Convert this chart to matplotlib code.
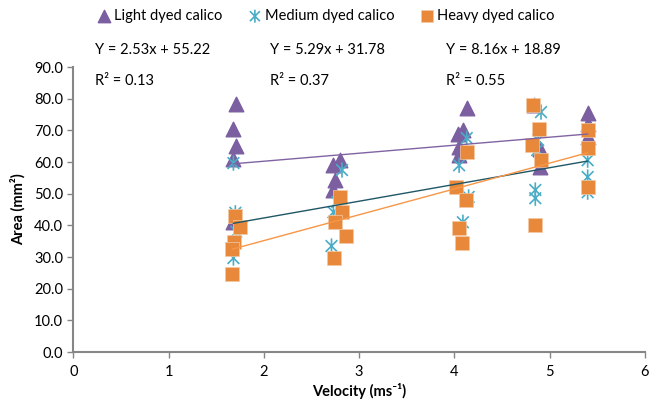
import numpy as np
import matplotlib.pyplot as plt
from matplotlib.path import Path

plt.rcParams['font.family'] = ['Lato', 'DejaVu Sans']

# Light dyed calico (triangles)
light_x = [1.71, 1.68, 1.71, 1.68, 1.68, 2.73, 2.80, 2.75, 2.73, 4.13, 4.09, 4.04, 4.05, 4.05,
           4.84, 4.90, 4.90, 5.40, 5.40, 5.40]
light_y = [78.5, 70.5, 65.0, 61.0, 41.0, 59.0, 60.6, 54.3, 51.2, 77.0, 70.0, 69.0, 64.7, 62.2,
           78.0, 64.0, 58.5, 75.5, 72.0, 68.0]

# Medium dyed calico (asterisks)
medium_x = [1.68, 1.70, 1.71, 1.68, 2.82, 2.77, 2.73, 2.71, 4.13, 4.05, 4.15, 4.09,
            4.91, 4.88, 4.87, 4.85, 4.85, 5.40, 5.40, 5.40]
medium_y = [59.7, 44.0, 38.0, 29.7, 57.5, 47.4, 44.2, 33.5, 67.6, 59.0, 49.0, 41.0,
            75.8, 67.0, 63.8, 51.2, 48.6, 60.6, 55.3, 50.5]

# Heavy dyed calico (squares)
heavy_x = [1.70, 1.75, 1.69, 1.67, 1.67, 2.80, 2.82, 2.75, 2.86, 2.74, 4.13, 4.02, 4.12, 4.05, 4.08,
           4.83, 4.89, 4.82, 4.91, 4.85, 5.40, 5.40, 5.40]
heavy_y = [43.0, 39.4, 34.7, 32.5, 24.6, 49.0, 44.2, 41.0, 36.6, 29.6, 63.2, 52.2, 48.0, 39.2, 34.4,
           78.0, 70.4, 65.4, 60.6, 40.0, 70.0, 64.4, 52.0]

labels = ['Light dyed calico', 'Medium dyed calico', 'Heavy dyed calico']
slopes = [2.53, 5.29, 8.16]
intercepts = [55.22, 31.78, 18.89]
r2 = [0.13, 0.37, 0.55]

c_light = '#7b5fa0'
c_medium = '#4aacc6'
c_heavy = '#e8883a'
line_cols = ['#8064a2', '#1f5766', '#f79646']

# asterisk marker: an X plus a vertical bar
star = Path([(-1, -1), (1, 1), (-1, 1), (1, -1), (0, -1.3), (0, 1.3)],
            [Path.MOVETO, Path.LINETO, Path.MOVETO, Path.LINETO, Path.MOVETO, Path.LINETO])

fig = plt.figure(figsize=(6.5, 4.07), dpi=100)
ax = fig.add_axes([0.113, 0.135, 0.879, 0.70])

h1 = ax.scatter(light_x, light_y, marker='^', s=110, color=c_light, zorder=2, label=labels[0])
h2 = ax.scatter(medium_x, medium_y, marker=star, s=120, facecolor='none', edgecolor=c_medium,
                linewidths=1.2, zorder=2, label=labels[1])
h3 = ax.scatter(heavy_x, heavy_y, marker='s', s=110, color=c_heavy, edgecolor='#f3c9a4',
                linewidths=0.5, zorder=3, label=labels[2])

for xs, m, b, col in zip([light_x, medium_x, heavy_x], slopes, intercepts, line_cols):
    xx = np.array([min(xs), max(xs)])
    ax.plot(xx, m * xx + b, color=col, lw=1.0, zorder=4)

ax.set_xlim(0, 6)
ax.set_ylim(0, 90)
ax.set_xticks(range(7))
ax.set_yticks(np.arange(0, 91, 10))
ax.set_yticklabels([f'{v:.1f}' for v in np.arange(0, 91, 10)])
for s in ['top', 'right']:
    ax.spines[s].set_visible(False)
for s in ['left', 'bottom']:
    ax.spines[s].set_color('#868686')
    ax.spines[s].set_linewidth(1.5)
ax.tick_params(colors='#868686', labelcolor='black', labelsize=10.5, length=4, width=1)
ax.tick_params(axis='x', pad=5)
ax.set_xlabel('Velocity (ms⁻¹)', fontsize=10.5, fontweight='bold', labelpad=3)
ax.set_ylabel('Area (mm²)', fontsize=10.5, fontweight='bold', labelpad=6)

eq_x = [95, 270, 446]
for i in range(3):
    fig.text(eq_x[i] / 650, 1 - 50 / 407, f'Y = {slopes[i]:.2f}x + {intercepts[i]:.2f}',
             fontsize=10.5, va='center')
    fig.text(eq_x[i] / 650, 1 - 81 / 407, f'R² = {r2[i]:.2f}', fontsize=10.5, va='center')

fig.legend(handles=[h1, h2, h3], loc='center', bbox_to_anchor=(0.5, 1 - 16 / 407), ncol=3,
           frameon=False, fontsize=10.5, handletextpad=0.1, columnspacing=1.6, handlelength=1.2,
           scatterpoints=1, markerscale=0.85)

fig.savefig('out.png', dpi=100)
